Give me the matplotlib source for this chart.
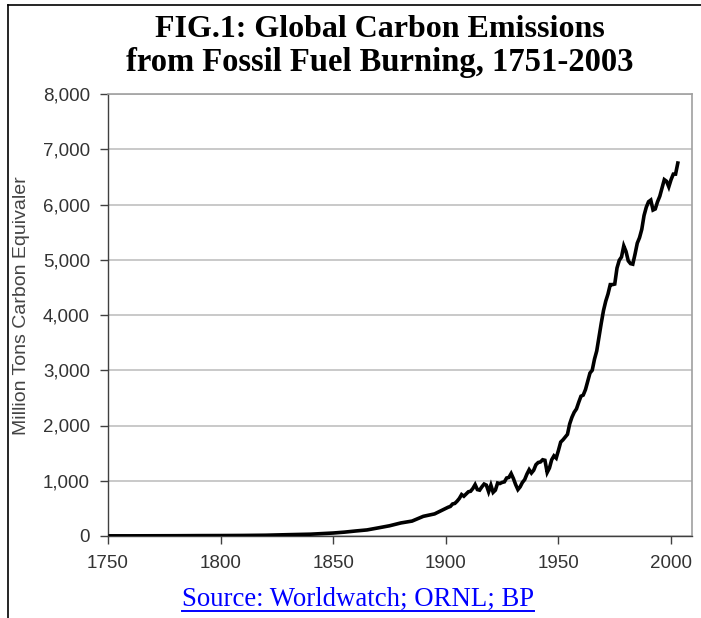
import matplotlib
matplotlib.use('Agg')
import matplotlib.pyplot as plt
from matplotlib.lines import Line2D
from matplotlib.ticker import FuncFormatter

# sparse points before 1900, yearly after
years = [1751, 1760, 1770, 1780, 1790, 1800, 1810, 1820, 1830, 1840,
         1850, 1855, 1860, 1865, 1870, 1875, 1880, 1885, 1890, 1895] + list(range(1900, 2004))
emissions = [3, 3, 4, 5, 7, 8, 10, 14, 24, 33,
             54, 70, 91, 110, 147, 185, 236, 270, 356, 400,
             # 1900-1949
             500, 520, 535, 580, 590, 630, 680, 750, 720, 760,
             800, 810, 860, 930, 840, 830, 890, 940, 920, 800,
             920, 790, 830, 960, 950, 970, 980, 1050, 1060, 1130,
             1040, 930, 840, 890, 970, 1020, 1120, 1200, 1140, 1190,
             1290, 1330, 1340, 1380, 1370, 1150, 1230, 1380, 1450, 1410,
             # 1950-2003
             1550, 1700, 1740, 1790, 1840, 2030, 2150, 2240, 2300, 2420,
             2530, 2550, 2650, 2800, 2950, 3000, 3200, 3350, 3600, 3850,
             4080, 4250, 4380, 4550, 4550, 4560, 4850, 4990, 5050, 5250,
             5150, 4980, 4930, 4920, 5100, 5300, 5400, 5550, 5800, 5950,
             6050, 6080, 5900, 5920, 6050, 6150, 6300, 6450, 6420, 6320,
             6450, 6550, 6550, 6750]

x_ticks = [1750, 1800, 1850, 1900, 1950, 2000]
y_ticks = [0, 1000, 2000, 3000, 4000, 5000, 6000, 7000, 8000]

title_lines = ['FIG.1: Global Carbon Emissions', 'from Fossil Fuel Burning, 1751-2003']
ylabel = 'Million Tons Carbon Equivaler'
source = 'Source: Worldwatch; ORNL; BP'

fig = plt.figure(figsize=(7.01, 6.18), dpi=100)
ax = fig.add_axes([108 / 701, 1 - 536 / 618, 584 / 701, 442 / 618])

ax.plot(years, emissions, color='black', linewidth=2.6, solid_joinstyle='miter', zorder=3)

ax.set_xlim(1750, 2009.3)
ax.set_ylim(0, 8000)
ax.set_xticks(x_ticks)
ax.set_yticks(y_ticks)
ax.yaxis.set_major_formatter(FuncFormatter(lambda v, p: f'{int(v):,}'))
ax.grid(axis='y', color='#c0c0c0', linewidth=1.2)
ax.set_axisbelow(True)

for side in ['top', 'right']:
    ax.spines[side].set_color('#a0a0a0')
    ax.spines[side].set_linewidth(1.2)
for side in ['left', 'bottom']:
    ax.spines[side].set_color('#404040')
    ax.spines[side].set_linewidth(1.0)

ax.tick_params(axis='both', direction='out', length=6, width=1, color='#404040',
               labelsize=13.5, labelcolor='#333333')
ax.tick_params(axis='x', pad=8)
ax.tick_params(axis='y', pad=7)
for lab in ax.get_xticklabels() + ax.get_yticklabels():
    lab.set_family('Liberation Sans')

ax.set_ylabel(ylabel, family='Liberation Sans', fontsize=14, color='#444444')
ax.yaxis.set_label_coords(-0.134, 0.522)

fig.text(0.542, 1 - 37 / 618, title_lines[0], ha='center', va='baseline',
         family='Liberation Serif', fontweight='bold', fontsize=23)
fig.text(0.542, 1 - 71 / 618, title_lines[1], ha='center', va='baseline',
         family='Liberation Serif', fontweight='bold', fontsize=23.5)

src = fig.text(0.511, 1 - 606 / 618, source, ha='center', va='baseline',
               family='Liberation Serif', fontsize=19.3, color='#0000ff')
fig.canvas.draw()
bb = src.get_window_extent().transformed(fig.transFigure.inverted())
uy = 1 - 611 / 618
fig.add_artist(Line2D([bb.x0, bb.x1], [uy, uy], color='#0000ff', linewidth=1.4))

# outer frame of the picture
fig.add_artist(Line2D([8 / 701, 8 / 701], [0, 1 - 5 / 618], color='black', linewidth=1.2))
fig.add_artist(Line2D([8 / 701, 1], [1 - 5 / 618, 1 - 5 / 618], color='black', linewidth=1.2))

fig.savefig('out.png', dpi=100)
